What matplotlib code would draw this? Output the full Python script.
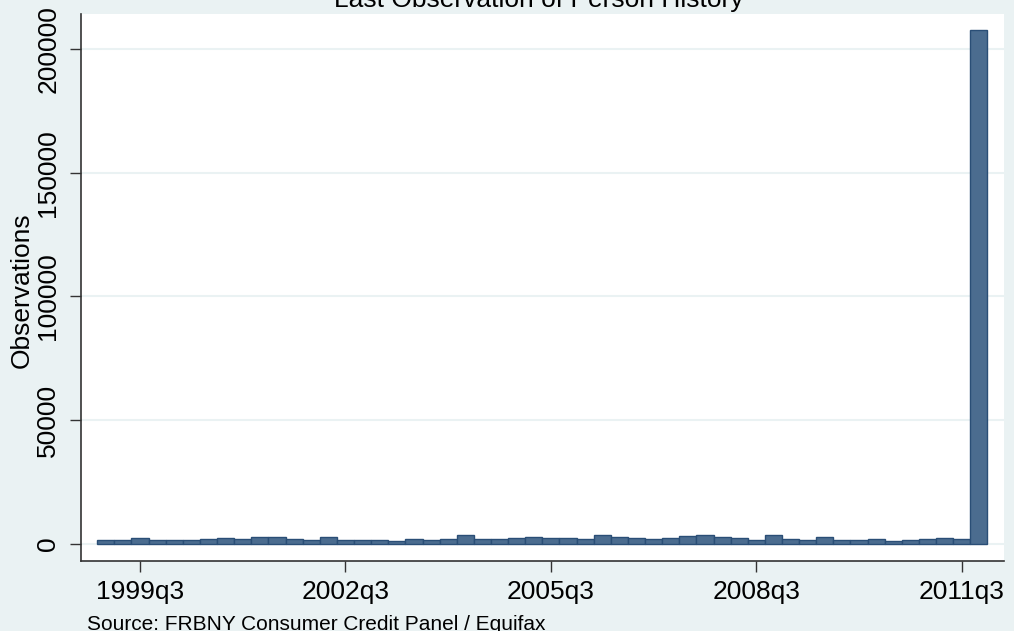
import matplotlib
matplotlib.use("Agg")
import matplotlib.pyplot as plt

plt.rcParams['font.family'] = ['Liberation Sans', 'DejaVu Sans']

# quarters 1999q1 .. 2011q4
quarters = [f"{y}q{q}" for y in range(1999, 2012) for q in range(1, 5)]
observations = [
    1300, 1550, 2350, 1300, 1550, 1550, 1950, 2350, 1800, 2650,
    2650, 2100, 1700, 2650, 1400, 1400, 1400, 1150, 1800, 1400,
    1950, 3550, 1950, 1950, 2250, 2900, 2250, 2250, 1950, 3550,
    2900, 2250, 1950, 2250, 3150, 3550, 2650, 2250, 1700, 3450,
    1950, 1700, 2650, 1400, 1400, 1800, 1150, 1400, 1800, 2250,
    1950, 207700,
]
xtick_labels = ["1999q3", "2002q3", "2005q3", "2008q3", "2011q3"]
ytick_values = [0, 50000, 100000, 150000, 200000]

title = "Last Observation of Person History"
ylabel = "Observations"
note = "Source: FRBNY Consumer Credit Panel / Equifax"

BG = '#EAF2F3'
FILL = '#4B6C8F'
EDGE = '#2A4E76'

W, H = 1014, 631
fig = plt.figure(figsize=(W / 100, H / 100), dpi=100, facecolor=BG)
ax = fig.add_axes([81 / W, (H - 560.7) / H, (1004 - 81) / W, (560.7 - 14) / H])
ax.set_facecolor('white')

x = list(range(len(quarters)))
ax.bar(x, observations, width=1.0, color=FILL, edgecolor=EDGE, linewidth=1.0, zorder=3)

ax.set_xlim(-1.45, 52.47)
ax.set_ylim(-6870, 214150)

xt = [quarters.index(l) for l in xtick_labels]
ax.set_xticks(xt)
ax.set_xticklabels(xtick_labels, fontsize=19)
ax.set_yticks(ytick_values)
ax.set_yticklabels([str(v) for v in ytick_values], fontsize=19, rotation=90, va='center')

ax.yaxis.grid(True, color=BG, linewidth=1.5, zorder=0)
ax.set_axisbelow(True)

for s in ['top', 'right']:
    ax.spines[s].set_visible(False)
for s in ['left', 'bottom']:
    ax.spines[s].set_color('#333333')
    ax.spines[s].set_linewidth(1.2)

ax.tick_params(axis='both', direction='out', length=8, width=1.0, color='#333333')
ax.tick_params(axis='y', pad=7)
ax.tick_params(axis='x', pad=6)

fig.text(22 / W, 1 - 290 / H, ylabel, rotation=90, fontsize=19, ha='center', va='center')
fig.text(539 / W, 1 - 7.3 / H, title, fontsize=19, ha='center', va='baseline')
fig.text(87 / W, 1 - 615 / H, note, fontsize=15, ha='left', va='top')

fig.savefig("out.png", dpi=100, facecolor=BG)
